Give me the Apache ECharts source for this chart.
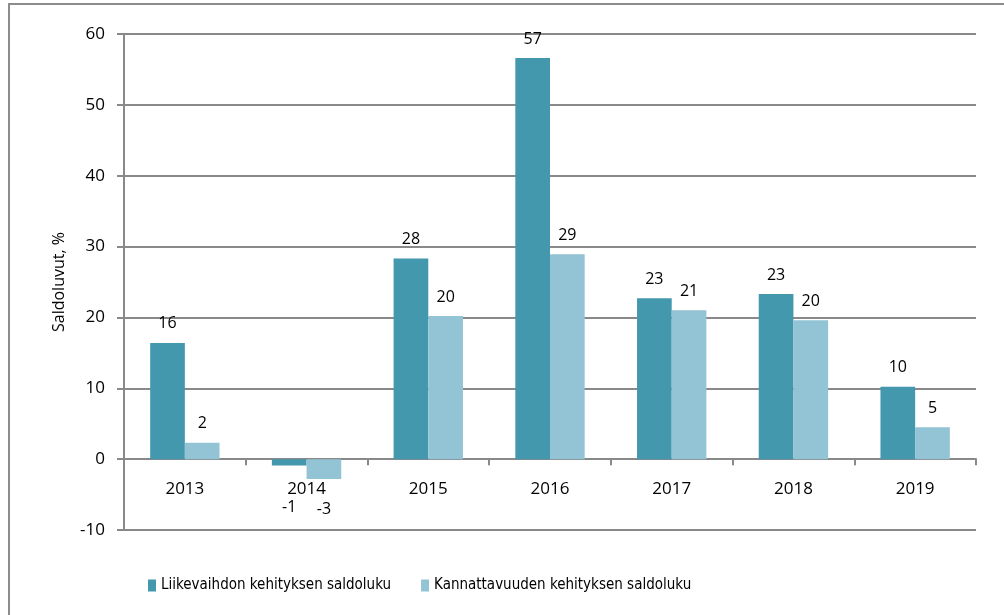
<!DOCTYPE html>
<html>
<head>
<meta charset="utf-8">
<script src="https://cdn.jsdelivr.net/npm/echarts@6/dist/echarts.min.js"></script>
<style>
  html, body { margin: 0; padding: 0; background: #fff; }
  #chart { width: 1004px; height: 615px; }
</style>
</head>
<body>
<div id="chart"></div>
<script>
'use strict';
const years = ['2013', '2014', '2015', '2016', '2017', '2018', '2019'];
const liikevaihto = [16.4, -0.9, 28.3, 56.6, 22.7, 23.3, 10.2];
const kannattavuus = [2.3, -2.8, 20.2, 28.9, 21.0, 19.6, 4.5];
const seriesNames = ['Liikevaihdon kehityksen saldoluku', 'Kannattavuuden kehityksen saldoluku'];
const yTicks = [-10, 0, 10, 20, 30, 40, 50, 60];

const font = 'Open Sans';
const gridColor = '#898989';

// negative bars get their label below, pushed under the category text
function toData(values, negDistance) {
    return values.map(v => {
        if (v < 0) {
            return { value: v, label: { position: 'bottom', distance: negDistance } };
        }
        return v;
    });
}

const labelStyle = {
    show: true,
    position: 'top',
    distance: 11,
    color: '#000',
    fontFamily: font,
    fontSize: 16,
    formatter: p => Math.round(p.value)
};

const chart = echarts.init(document.getElementById('chart'), null, { renderer: 'canvas' });

chart.setOption({
    animation: false,
    backgroundColor: '#fff',
    graphic: [{
        type: 'rect',
        shape: { x: 9, y: 4, width: 1010, height: 640 },
        style: { fill: 'none', stroke: '#8c8c8c', lineWidth: 2 },
        silent: true
    }],
    grid: { left: 124, right: 28, top: 34, bottom: 85 },
    legend: {
        left: 143,
        top: 573,
        itemWidth: 8,
        itemHeight: 12,
        itemGap: 30,
        icon: 'rect',
        textStyle: { fontFamily: '"DejaVu Sans Condensed", "Open Sans"', fontSize: 15, color: '#000' },
        data: seriesNames
    },
    xAxis: {
        type: 'category',
        data: years,
        axisLine: { onZero: true, lineStyle: { color: gridColor, width: 2 } },
        axisTick: { show: true, length: 6, lineStyle: { color: gridColor, width: 2 } },
        axisLabel: { color: '#000', fontFamily: font, fontSize: 17, margin: -49 }
    },
    yAxis: {
        type: 'value',
        min: yTicks[0],
        max: yTicks[yTicks.length - 1],
        interval: 10,
        name: 'Saldoluvut, %',
        nameLocation: 'middle',
        nameGap: 57,
        nameTextStyle: { color: '#000', fontFamily: font, fontSize: 16 },
        axisLine: { show: true, lineStyle: { color: gridColor, width: 2 } },
        axisTick: { show: true, length: 7, lineStyle: { color: gridColor, width: 2 } },
        axisLabel: { color: '#000', fontFamily: font, fontSize: 17, margin: 19 },
        splitLine: { show: true, lineStyle: { color: gridColor, width: 2 } }
    },
    series: [{
        name: seriesNames[0],
        type: 'bar',
        data: toData(liikevaihto, 34),
        barGap: '0%',
        barCategoryGap: '43%',
        itemStyle: { color: '#4398ae' },
        label: labelStyle
    }, {
        name: seriesNames[1],
        type: 'bar',
        data: toData(kannattavuus, 22),
        itemStyle: { color: '#93c4d5' },
        label: labelStyle
    }]
});
</script>
</body>
</html>
